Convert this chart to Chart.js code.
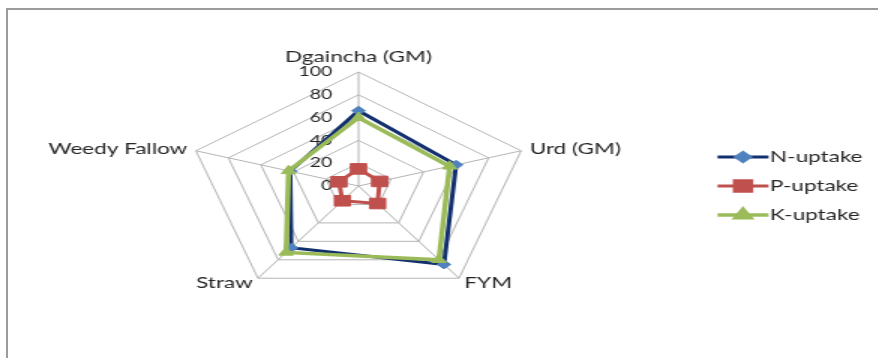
<!DOCTYPE html>
<html>
<head>
<meta charset="utf-8">
<script src="https://cdn.jsdelivr.net/npm/chart.js@4/dist/chart.umd.min.js"></script>
<style>
  html, body { margin: 0; padding: 0; background: #ffffff; overflow: hidden; }
  body { width: 878px; height: 358px; position: relative; }
  #frame { position: absolute; left: 6px; top: 8px; width: 900px; height: 400px;
           border-top: 2px solid #9c9c9c; border-left: 2px solid #9c9c9c; }
  #wrap { position: absolute; left: 0; top: 0; width: 585px; height: 358px;
          transform: scaleX(1.5); transform-origin: 0 0; }
  canvas { display: block; }
</style>
</head>
<body>
<div id="frame"></div>
<div id="wrap"><canvas id="c" width="585" height="358"></canvas></div>
<script>
// ---- data ----
const categories = ['Dgaincha (GM)', 'Urd (GM)', 'FYM', 'Straw', 'Weedy Fallow'];
const nUptake = [66, 60, 85, 67, 42];
const pUptake = [15, 13, 19, 16, 12];
const kUptake = [60, 56, 80, 72, 43];
const seriesNames = ['N-uptake', 'P-uptake', 'K-uptake'];
const tickValues = [0, 20, 40, 60, 80, 100];

const FONT = 'Lato';
const TEXT = '#262626';
const GRID = '#b4b4b4';
const LABEL_PAD = 6;

const tickLabelPlugin = {
  id: 'tickLabels',
  beforeDatasetsDraw(chart) {
    const s = chart.scales.r;
    const ctx = chart.ctx;
    ctx.save();
    ctx.font = '13px ' + FONT;
    ctx.fillStyle = TEXT;
    ctx.textAlign = 'right';
    ctx.textBaseline = 'middle';
    s.ticks.forEach(t => {
      const d = s.getDistanceFromCenterForValue(t.value);
      ctx.fillText(String(t.value), s.xCenter - 17.5, s.yCenter - d);
    });
    ctx.restore();
  }
};

// point labels placed the way the original does: side/bottom labels centred
// vertically on the anchor, top label sitting above it
const pointLabelPlugin = {
  id: 'pointLabelText',
  afterDatasetsDraw(chart) {
    const s = chart.scales.r;
    const ctx = chart.ctx;
    ctx.save();
    ctx.font = '15px ' + FONT;
    ctx.fillStyle = TEXT;
    ctx.textBaseline = 'middle';
    chart.data.labels.forEach((label, i) => {
      const p = s.getPointPosition(i, s.drawingArea + LABEL_PAD);
      const dx = p.x - s.xCenter;
      if (Math.abs(dx) < 1) {
        ctx.textAlign = 'center';
        ctx.fillText(label, p.x, p.y - 9);
      } else {
        ctx.textAlign = dx > 0 ? 'left' : 'right';
        ctx.fillText(label, p.x, p.y);
      }
    });
    ctx.restore();
  }
};

const legendMarkerPlugin = {
  id: 'legendMarkers',
  afterDraw(chart) {
    const lg = chart.legend;
    if (!lg || !lg.legendHitBoxes) return;
    const ctx = chart.ctx;
    const bw = lg.options.labels.boxWidth;
    const fs = lg.options.labels.font.size;
    lg.legendItems.forEach((item, i) => {
      const hb = lg.legendHitBoxes[i];
      const ds = chart.data.datasets[item.datasetIndex];
      const textX = hb.left + bw + fs / 2;
      const cy = hb.top + hb.height / 2;
      const x0 = textX - 35, x1 = textX - 1;
      ctx.save();
      ctx.strokeStyle = ds.borderColor;
      ctx.lineWidth = ds.borderWidth;
      ctx.beginPath();
      ctx.moveTo(x0, cy);
      ctx.lineTo(x1, cy);
      ctx.stroke();
      ctx.fillStyle = ds.pointBackgroundColor;
      ctx.strokeStyle = ds.pointBorderColor;
      Chart.helpers.drawPoint(ctx, {
        pointStyle: ds.pointStyle, radius: ds.pointRadius, rotation: 0, borderWidth: 1
      }, (x0 + x1) / 2, cy);
      ctx.restore();
    });
  }
};

function build() {
  new Chart(document.getElementById('c'), {
    type: 'radar',
    data: {
      labels: categories,
      datasets: [
        { label: seriesNames[0], data: nUptake, order: 2,
          borderColor: '#13306e', borderWidth: 3, fill: false, tension: 0,
          pointStyle: 'rectRot', pointRadius: 4.5, pointBackgroundColor: '#4f81bd',
          pointBorderColor: '#4f81bd', pointBorderWidth: 1 },
        { label: seriesNames[1], data: pUptake, order: 1,
          borderColor: '#c0504d', borderWidth: 3, fill: false, tension: 0,
          pointStyle: 'rect', pointRadius: 7.5, pointBackgroundColor: '#c0504d',
          pointBorderColor: '#c0504d', pointBorderWidth: 1 },
        { label: seriesNames[2], data: kUptake, order: 0,
          borderColor: '#9bbb59', borderWidth: 3.5, fill: false, tension: 0,
          pointStyle: 'triangle', pointRadius: 5.5, pointBackgroundColor: '#9bbb59',
          pointBorderColor: '#9bbb59', pointBorderWidth: 1 }
      ]
    },
    options: {
      responsive: false,
      animation: false,
      devicePixelRatio: 1,
      layout: { padding: { left: 12, right: 0, top: 36, bottom: 46 } },
      plugins: {
        tooltip: { enabled: false },
        legend: {
          position: 'right',
          align: 'center',
          title: { display: true, text: '', font: { size: 10 }, padding: { top: 6, bottom: 6 } },
          labels: {
            font: { family: FONT, size: 15 },
            color: TEXT,
            boxWidth: 27,
            boxHeight: 3,
            padding: 14,
            sort: (a, b) => a.datasetIndex - b.datasetIndex,
            generateLabels(chart) {
              const items = Chart.defaults.plugins.legend.labels.generateLabels(chart);
              items.forEach(it => {
                it.fillStyle = 'rgba(0,0,0,0)';
                it.strokeStyle = 'rgba(0,0,0,0)';
                it.lineWidth = 0;
              });
              return items;
            }
          }
        }
      },
      scales: {
        r: {
          min: tickValues[0],
          max: tickValues[tickValues.length - 1],
          ticks: { stepSize: tickValues[1] - tickValues[0], display: false },
          grid: { color: GRID, lineWidth: 1, circular: false },
          angleLines: { color: GRID, lineWidth: 1 },
          pointLabels: { font: { family: FONT, size: 15 }, color: 'rgba(0,0,0,0)', padding: LABEL_PAD }
        }
      }
    },
    plugins: [tickLabelPlugin, pointLabelPlugin, legendMarkerPlugin]
  });
}

if (document.fonts && document.fonts.load) {
  Promise.all([document.fonts.load('15px Lato'), document.fonts.load('13px Lato')])
    .then(build, build);
} else {
  build();
}
</script>
</body>
</html>
